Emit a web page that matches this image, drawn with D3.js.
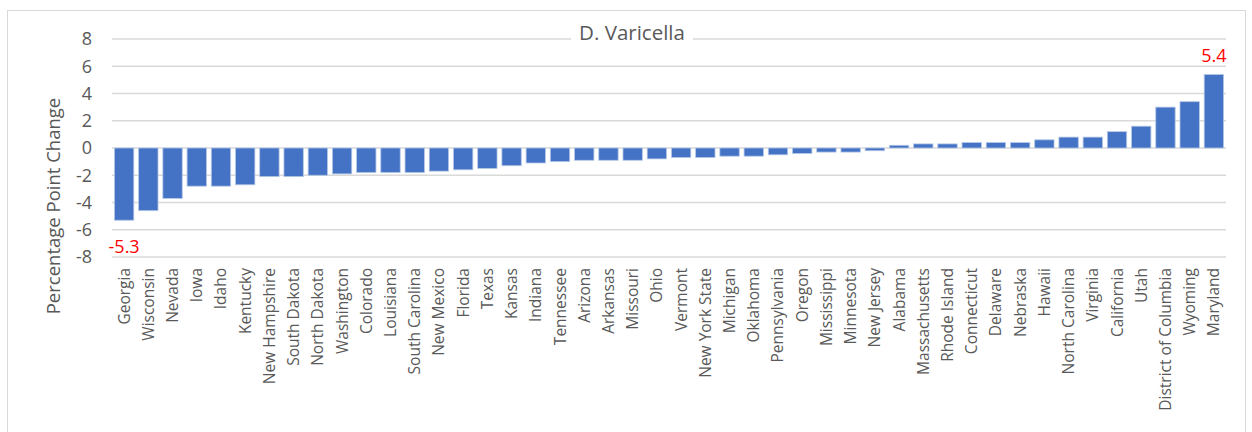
<!DOCTYPE html>
<html>
<head>
<meta charset="utf-8">
<script src="https://cdn.jsdelivr.net/npm/d3@7"></script>
<style>
	body { margin: 0; background: #fff; }
	svg text { font-family: "Open Sans", "Noto Sans", sans-serif; fill: #595959; }
</style>
</head>
<body>
<div id="chart"></div>
<script>
	//states, sorted low to high
	var states = ["Georgia", "Wisconsin", "Nevada", "Iowa", "Idaho", "Kentucky", "New Hampshire",
		"South Dakota", "North Dakota", "Washington", "Colorado", "Louisiana", "South Carolina",
		"New Mexico", "Florida", "Texas", "Kansas", "Indiana", "Tennessee", "Arizona", "Arkansas",
		"Missouri", "Ohio", "Vermont", "New York State", "Michigan", "Oklahoma", "Pennsylvania",
		"Oregon", "Mississippi", "Minnesota", "New Jersey", "Alabama", "Massachusetts",
		"Rhode Island", "Connecticut", "Delaware", "Nebraska", "Hawaii", "North Carolina",
		"Virginia", "California", "Utah", "District of Columbia", "Wyoming", "Maryland"];
	//percentage point change
	var changes = [-5.3, -4.6, -3.7, -2.8, -2.8, -2.7, -2.1,
		-2.1, -2.0, -1.9, -1.8, -1.8, -1.8,
		-1.7, -1.6, -1.5, -1.3, -1.1, -1.0, -0.9, -0.9,
		-0.9, -0.8, -0.7, -0.7, -0.6, -0.6, -0.5,
		-0.4, -0.3, -0.3, -0.2, 0.2, 0.3,
		0.3, 0.4, 0.4, 0.4, 0.6, 0.8,
		0.8, 1.2, 1.6, 3.0, 3.4, 5.4];
	var yTicks = [-8, -6, -4, -2, 0, 2, 4, 6, 8];
	var labelled = ["Georgia", "Maryland"];

	var width = 1252;
	var height = 432;

	var svg = d3.select("#chart").append("svg")
		.attr("width", width)
		.attr("height", height);

	//outer chart border
	svg.append("rect")
		.attr("x", 7.5).attr("y", 10.5)
		.attr("width", 1238).attr("height", 440)
		.attr("fill", "none")
		.attr("stroke", "#d9d9d9");

	var x = d3.scaleBand().domain(states).range([112, 1226]).paddingInner(0.2).paddingOuter(0.1);
	var y = d3.scaleLinear().domain([-8, 8]).range([257, 39]);

	//gridlines
	svg.append("g")
		.selectAll("line")
		.data(yTicks)
		.enter().append("line")
		.attr("x1", 112).attr("x2", 1226)
		.attr("y1", function(d) { return y(d); })
		.attr("y2", function(d) { return y(d); })
		.attr("stroke", "#d9d9d9")
		.attr("stroke-width", 1.3);

	//y tick labels
	svg.append("g")
		.selectAll("text")
		.data(yTicks)
		.enter().append("text")
		.attr("x", 92)
		.attr("y", function(d) { return y(d); })
		.attr("dy", "0.36em")
		.attr("text-anchor", "end")
		.style("font-size", "18px")
		.text(function(d) { return d; });

	svg.append("text")
		.attr("transform", "translate(60,206) rotate(-90)")
		.attr("text-anchor", "middle")
		.style("font-size", "18.5px")
		.text("Percentage Point Change");

	//bars
	svg.append("g")
		.selectAll("rect")
		.data(changes)
		.enter().append("rect")
		.attr("x", function(d, i) { return x(states[i]); })
		.attr("width", x.bandwidth())
		.attr("y", function(d) { return y(Math.max(0, d)); })
		.attr("height", function(d) { return Math.abs(y(d) - y(0)); })
		.attr("fill", "#4472c4")
		.attr("stroke", "#b4c7e7")
		.attr("stroke-width", 0.8);

	//category labels
	svg.append("g")
		.selectAll("text")
		.data(states)
		.enter().append("text")
		.attr("transform", function(d) {
			return "translate(" + (x(d) + x.bandwidth() / 2 + 5.5) + ",268) rotate(-90)";
		})
		.attr("text-anchor", "end")
		.style("font-size", "15.5px")
		.text(function(d) { return d; });

	//red data labels for the extremes
	svg.append("g")
		.selectAll("text")
		.data(labelled)
		.enter().append("text")
		.attr("x", function(d) { return x(d) + x.bandwidth() / 2; })
		.attr("y", function(d) {
			var v = changes[states.indexOf(d)];
			return v < 0 ? y(v) + 33 : y(v) - 12;
		})
		.attr("text-anchor", "middle")
		.style("font-size", "18px")
		.style("fill", "#ff0000")
		.text(function(d) { return changes[states.indexOf(d)]; });

	//title with white box over the top gridline
	var titleBox = svg.append("rect").attr("fill", "#fff");
	var title = svg.append("text")
		.attr("x", 632)
		.attr("y", 40)
		.attr("text-anchor", "middle")
		.style("font-size", "20.5px")
		.text("D. Varicella");
	var bb = title.node().getBBox();
	titleBox
		.attr("x", bb.x - 8).attr("y", bb.y)
		.attr("width", bb.width + 16).attr("height", bb.height);
</script>
</body>
</html>
